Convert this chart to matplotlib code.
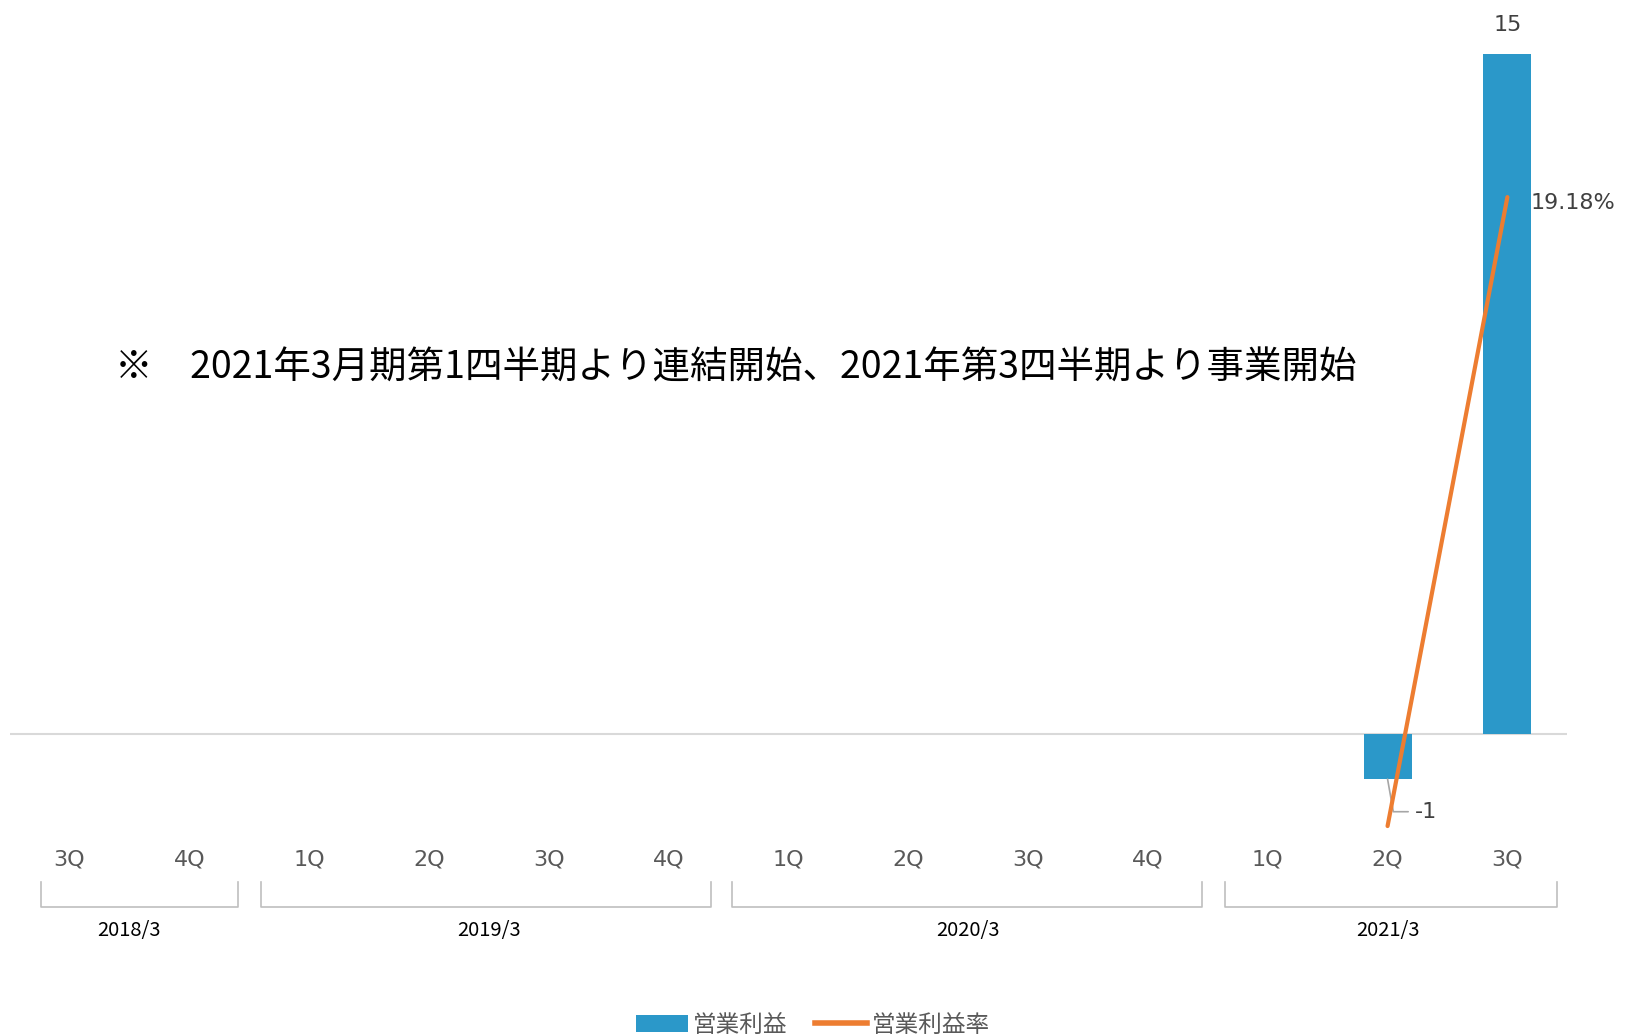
import numpy as np
import matplotlib
matplotlib.use("Agg")
from matplotlib import pyplot as plt
from matplotlib.lines import Line2D
from matplotlib.patches import Patch

plt.rcParams['font.family'] = ['Noto Sans CJK JP', 'DejaVu Sans']

# ---------------------------------------------------------------- data
quarters = ["3Q", "4Q", "1Q", "2Q", "3Q", "4Q", "1Q", "2Q", "3Q", "4Q", "1Q", "2Q", "3Q"]
fiscal_years = ["2018/3", "2019/3", "2020/3", "2021/3"]
year_spans = [(0, 1), (2, 5), (6, 9), (10, 12)]   # first / last quarter index of each year

op_profit = [np.nan] * 11 + [-1, 15]               # 営業利益
op_margin = [np.nan] * 11 + [-3.29, 19.18]         # 営業利益率 (%)
profit_labels = {11: "-1", 12: "15"}
margin_labels = {12: "19.18%"}

note = "※\u30002021年3月期第1四半期より連結開始、2021年第3四半期より事業開始"

bar_color = "#2B98C9"
line_color = "#ED7D31"
label_font = ["DejaVu Sans"]

# bracket insets (left, right) in category units, per year group
bracket_insets = [(0.26, 0.09), (0.10, 0.15), (0.03, 0.05), (0.14, 0.09)]

# ---------------------------------------------------------------- figure
fig = plt.figure(figsize=(16.26, 10.35), dpi=100)
ax = fig.add_axes([0.0059, 0.1816, 0.958, 0.8097])
ax2 = ax.twinx()

x = np.arange(len(quarters))

ax.bar(x, np.nan_to_num(op_profit), width=0.4, color=bar_color, zorder=2)
ax.axhline(0, color="#D9D9D9", linewidth=1.5, zorder=1)
ax.set_xlim(-0.5, len(quarters) - 0.5)
ax.set_ylim(-2.5, 16.0)

ax2.plot(x, op_margin, color=line_color, linewidth=3, solid_capstyle="round", zorder=3)
ax2.set_ylim(-4.04, 25.9)

for a in (ax, ax2):
    for s in a.spines.values():
        s.set_visible(False)
    a.set_yticks([])

ax.set_xticks(x)
ax.set_xticklabels(quarters, fontsize=16, color="#595959", family=label_font)
ax.tick_params(axis="x", length=0, pad=2)

# data labels
ax.annotate(profit_labels[12], xy=(12, 15), xytext=(0, 14), textcoords="offset points",
            ha="center", va="bottom", fontsize=16, color="#404040", family=label_font)
ax.annotate(profit_labels[11], xy=(11, -1), xytext=(11.23, -1.72),
            ha="left", va="center", fontsize=16, color="#404040", family=label_font,
            arrowprops=dict(arrowstyle="-", color="#A6A6A6", lw=1.2,
                            connectionstyle="angle,angleA=0,angleB=100,rad=0",
                            shrinkA=3, shrinkB=0))
ax2.annotate(margin_labels[12], xy=(12, 19.18), xytext=(17, -4), textcoords="offset points",
             ha="left", va="center", fontsize=16, color="#404040", family=label_font)

# note text
ax.text(0.0675, 0.571, note, transform=ax.transAxes, ha="left", va="center",
        fontsize=27, color="black")

# year brackets below the quarter labels
trans = ax.get_xaxis_transform()
for label, (i0, i1), (li, ri) in zip(fiscal_years, year_spans, bracket_insets):
    x0, x1 = i0 - 0.5 + li, i1 + 0.5 - ri
    y_top, y_bot = -0.042, -0.072
    ax.plot([x0, x0, x1, x1], [y_top, y_bot, y_bot, y_top], transform=trans,
            color="#BFBFBF", linewidth=1.2, clip_on=False)
    ax.text((i0 + i1) / 2, -0.099, label, transform=trans, ha="center", va="center",
            fontsize=14.5, color="black")

handles = [Patch(facecolor=bar_color, label="営業利益"),
           Line2D([0], [0], color=line_color, linewidth=4, label="営業利益率")]
fig.legend(handles=handles, loc="lower center", bbox_to_anchor=(0.5, -0.022), ncol=2,
           frameon=False, fontsize=17, handlelength=2.2, columnspacing=1.2, handletextpad=0.2,
           labelcolor="#595959")

fig.savefig("out.png", dpi=100)
